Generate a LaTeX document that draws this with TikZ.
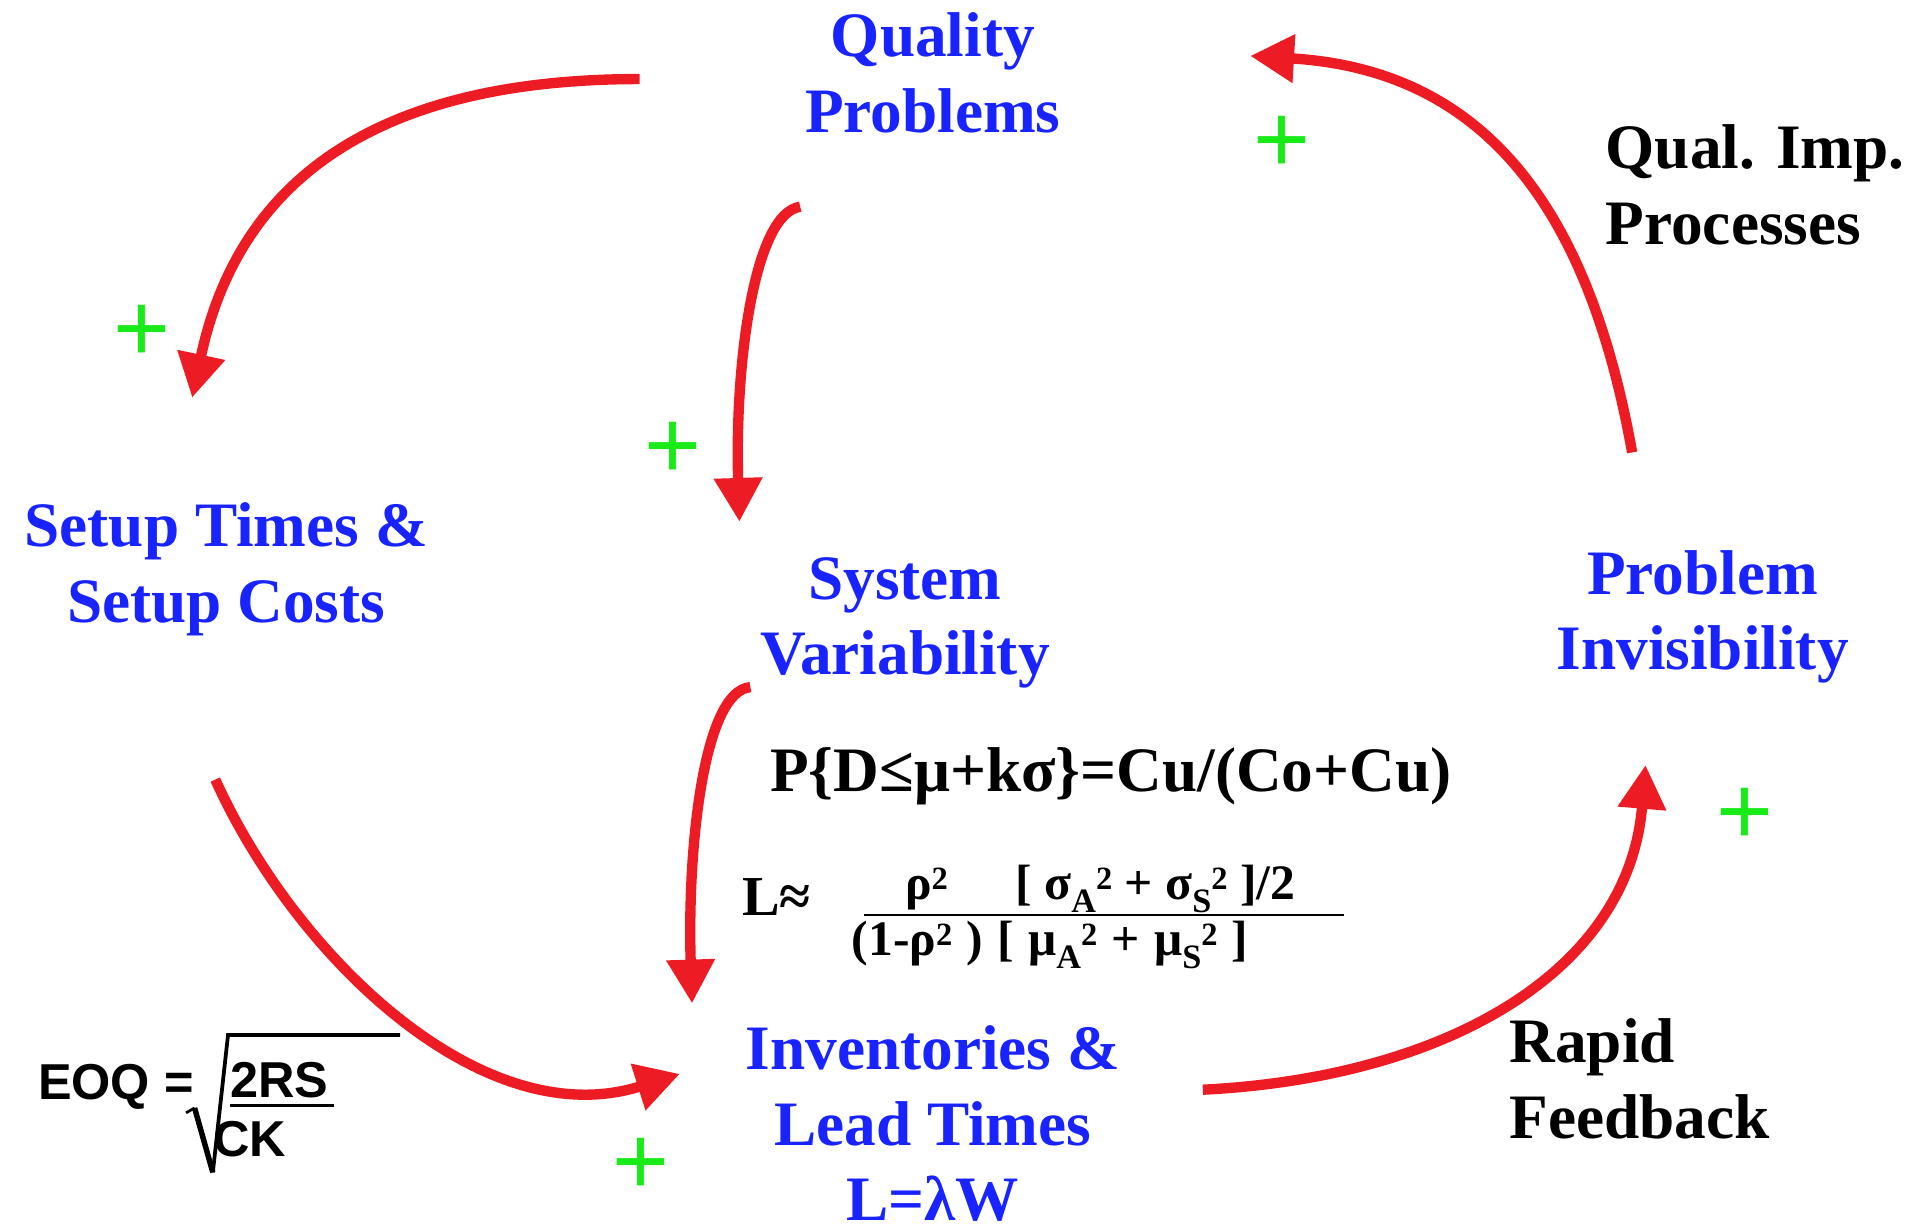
\documentclass[tikz,border=0pt]{standalone}
\usepackage{fontspec}
\setmainfont{Liberation Serif}
\newfontfamily\eoqfont{Liberation Sans}
\usetikzlibrary{arrows.meta}
\definecolor{nodeblue}{RGB}{25,35,255}
\definecolor{arrowred}{RGB}{237,28,36}
\definecolor{plusgreen}{RGB}{25,235,25}
\newcommand\sps[1]{\raisebox{0.22em}{\fontsize{19}{19}\selectfont #1}}
\newcommand\sbs[1]{\raisebox{-0.25em}{\fontsize{20}{20}\selectfont #1}}
\begin{document}
\begin{tikzpicture}[x=0.025cm, y=-0.025cm,
  concept/.style={text=nodeblue, font=\fontsize{37}{44.1}\selectfont\bfseries, align=center, inner sep=0pt},
  note/.style={text=black, font=\fontsize{37}{44.1}\selectfont\bfseries, align=left, inner sep=0pt},
  formula/.style={text=black, font=\fontsize{37}{44.1}\selectfont\bfseries, inner sep=0pt},
  fracpart/.style={text=black, font=\fontsize{29}{33}\selectfont\bfseries, inner sep=0pt},
  eoqtext/.style={text=black, font=\eoqfont\fontsize{29.5}{32}\selectfont\bfseries, inner sep=0pt},
  link/.style={draw=arrowred, line width=6.05pt, -{Triangle[length=25.6pt,width=27pt]}},
  plusmark/.style={text=plusgreen, font=\eoqfont\fontsize{57}{57}\selectfont, inner sep=0pt}
]
\useasboundingbox (0,0) rectangle (1568,1012);

% concept nodes
\node[concept] (qp)  at (767,60)  {Quality\\Problems};
\node[concept] (stc) at (186,468) {Setup Times \&\\Setup Costs};
\node[concept] (sv)  at (744,512) {System\\Variability};
\node[concept] (pi)  at (1400,507) {Problem\\Invisibility};
\node[concept] (ilt) at (767,924) {Inventories \&\\Lead Times\\L=λW};

% black labels
\node[note, anchor=west] (qip) at (1320,152) {Qual. Imp.\\Processes};
\node[note, anchor=west] (rf)  at (1241,887) {Rapid\\Feedback};

% formulas
\node[formula, anchor=base west] (news) at (633,651) {P\{D≤μ+kσ\}=Cu/(Co+Cu)};
\node[text=black, font=\fontsize{33}{36}\selectfont\bfseries, inner sep=0pt, anchor=base west] (lapprox) at (610,753) {L≈};
\node[fracpart, anchor=base west] (num) at (744,740) {\makebox[228pt][s]{ρ\sps{2}\hfill[ σ\sbs{A}\sps{2} + σ\sbs{S}\sps{2} ]/2}};
\node[fracpart, anchor=base west] (den) at (700,786) {\makebox[232pt][s]{(1-ρ\sps{2} ) [ μ\sbs{A}\sps{2} + μ\sbs{S}\sps{2} ]}};
\coordinate (fl) at (710,752);
\coordinate (fr) at (1105,752);
\draw[line width=1.1pt] (fl) -- (fr);

% EOQ
\node[eoqtext, anchor=base west] (eoq) at (31,904) {EOQ =};
\node[eoqtext, anchor=base west] (rs)  at (189,902) {2RS};
\node[eoqtext, anchor=base west] (ck)  at (175,951) {CK};
\draw[line width=1.8pt] (189,909) -- (275,909);
\draw[line width=1.6pt] (153,915) -- (160,911);
\draw[line width=3.2pt] (160,911) -- (175,964);
\draw[line width=2.2pt, line join=miter] (175,964) -- (187.5,851) -- (329,851);

% arrow end points
\coordinate (a1s) at (526,65);   \coordinate (a1e) at (158,327);
\coordinate (a2s) at (658,170);  \coordinate (a2e) at (608,429);
\coordinate (a3s) at (617,565);  \coordinate (a3e) at (569,825);
\coordinate (a4s) at (177,641);  \coordinate (a4e) at (559,883);
\coordinate (a5s) at (989,896);  \coordinate (a5e) at (1353,629);
\coordinate (a6s) at (1342,372); \coordinate (a6e) at (1028,46);

\draw[link] (a1s) .. controls (286,65) and (192,167) .. (a1e);
\draw[link] (a2s) .. controls (620,175) and (604,300) .. (a2e);
\draw[link] (a3s) .. controls (578,568) and (565,700) .. (a3e);
\draw[link] (a4s) .. controls (243,787) and (397,934) .. (a4e);
\draw[link] (a5s) .. controls (1189,886) and (1339,799) .. (a5e);
\draw[link] (a6s) .. controls (1308,182) and (1228,58) .. (a6e);

% plus signs
\node[plusmark] (p1) at (117,274) {+};
\node[plusmark] (p2) at (553,370) {+};
\node[plusmark] (p3) at (1054,119) {+};
\node[plusmark] (p4) at (1435,671) {+};
\node[plusmark] (p5) at (527,959) {+};
\end{tikzpicture}
\end{document}
